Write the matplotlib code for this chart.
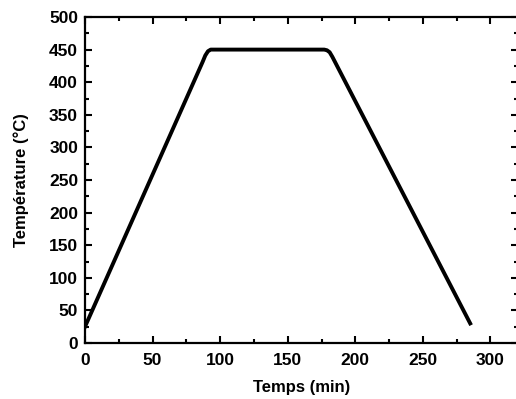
import matplotlib
matplotlib.use("Agg")
import matplotlib.pyplot as plt
from matplotlib.ticker import MultipleLocator

# temperature profile
time_min = [0, 87, 89, 91, 93, 177, 179, 181, 183, 285]
temp_c = [25, 431, 441, 447.5, 450, 450, 449, 446, 439, 30]

plt.rcParams['font.family'] = ['Liberation Sans', 'DejaVu Sans']
plt.rcParams['font.weight'] = 'bold'

fig = plt.figure(figsize=(5.16, 3.99), dpi=100)
ax = fig.add_axes([85 / 516, 56 / 399, 432.5 / 516, 326 / 399])

ax.plot(time_min, temp_c, color='black', lw=2.8, solid_joinstyle='round')

ax.set_xlim(0, 320)
ax.set_ylim(0, 500)
ax.xaxis.set_major_locator(MultipleLocator(50))
ax.xaxis.set_minor_locator(MultipleLocator(25))
ax.yaxis.set_major_locator(MultipleLocator(50))
ax.yaxis.set_minor_locator(MultipleLocator(25))
ax.tick_params(which='both', direction='in', top=True, right=True, width=1.5)
ax.tick_params(which='major', length=5, labelsize=12.5)
ax.tick_params(axis='x', which='major', pad=7)
ax.tick_params(axis='y', which='major', pad=5)
ax.tick_params(which='minor', length=3)
for s in ax.spines.values():
    s.set_linewidth(1.6)

ax.set_xlabel('Temps (min)', fontsize=12, fontweight='bold', labelpad=9)
ax.set_ylabel('Température (°C)', fontsize=12, fontweight='bold', labelpad=14)

fig.savefig('out.png', dpi=100)
